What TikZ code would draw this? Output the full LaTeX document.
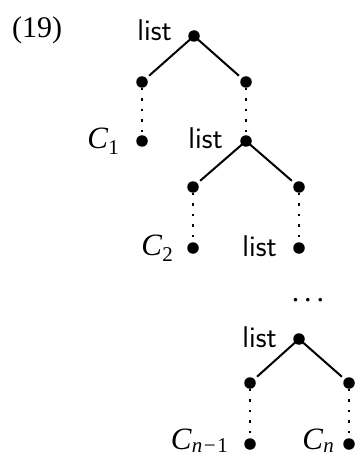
\documentclass[tikz,border=0pt]{standalone}
\usepackage{fontspec}
\setmainfont{Liberation Serif}
\newcommand{\bigsz}{\fontsize{30}{36}\selectfont}
\newcommand{\Csub}[2][6pt]{{\fontsize{31}{36}\selectfont\textit{C}}\raisebox{-#1}{\fontsize{21}{24}\selectfont #2}}
\begin{document}
\begin{tikzpicture}[x=1pt,y=-1pt,
  dot/.style={circle,fill=black,inner sep=0pt,minimum size=11.5pt},
  edge/.style={line width=2pt,shorten >=3.5pt},
  dotline/.style={line width=2.2pt,line cap=butt,dash pattern=on 2.2pt off 8.3pt},
  lab/.style={inner sep=0pt,anchor=base east,font=\bigsz\sffamily},
  clab/.style={inner sep=0pt,anchor=base east,font=\bigsz}]
\useasboundingbox (0,0) rectangle (355,457);
\node[inner sep=0pt,anchor=base west,font=\bigsz] (num) at (12,38) {(19)};
% tree 1
\node[dot] (r1) at (194,36) {};
\node[dot] (a1) at (142,82) {};
\node[dot] (b1) at (246,82) {};
\node[dot] (c1) at (142,141) {};
\node[dot] (r2) at (246,141) {};
% tree 2
\node[dot] (a2) at (193,187) {};
\node[dot] (b2) at (299,187) {};
\node[dot] (c2) at (193,248) {};
\node[dot] (l2) at (299,248) {};
% tree 3
\node[dot] (r3) at (299,339) {};
\node[dot] (a3) at (250,383) {};
\node[dot] (b3) at (349,383) {};
\node[dot] (cn1) at (250,444) {};
\node[dot] (cn) at (349,444) {};
% edges
\draw[edge] (r1.center) -- (a1);
\draw[edge] (r1.center) -- (b1);
\draw[edge] (r2.center) -- (a2);
\draw[edge] (r2.center) -- (b2);
\draw[edge] (r3.center) -- (a3);
\draw[edge] (r3.center) -- (b3);
\draw[dotline] (a1) -- (c1);
\draw[dotline] (b1) -- (r2);
\draw[dotline] (a2) -- (c2);
\draw[dotline] (b2) -- (l2);
\draw[dotline] (a3) -- (cn1);
\draw[dotline] (b3) -- (cn);
% labels
\node[lab] (t1) at (172,41) {list};
\node[lab] (t2) at (223,149) {list};
\node[lab] (t3) at (277,256) {list};
\node[lab] (t4) at (277,347) {list};
\node[clab] (k1) at (119,149) {\Csub{1}};
\node[clab] (k2) at (173,255) {\Csub{2}};
\node[clab] (k3) at (228,449) {\Csub[3.5pt]{\textit{n}\hspace{1.5pt}−\hspace{1.5pt}1}};
\node[clab] (k4) at (334,449) {\Csub[3pt]{\textit{n}}};
\node[inner sep=0pt,anchor=base,font=\bigsz] (dd) at (308,301) {.\hspace{5pt}.\hspace{5pt}.};
\end{tikzpicture}
\end{document}
